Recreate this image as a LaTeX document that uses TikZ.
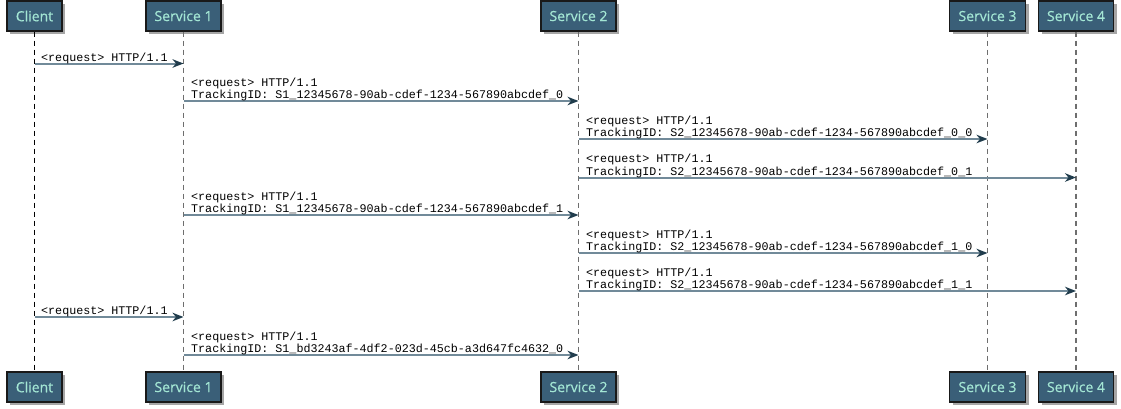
\documentclass[tikz,border=0pt]{standalone}
\usepackage{fontspec}
\setmainfont{Liberation Serif}
\newfontfamily\boxfont[FakeBold=0.4]{Open Sans}
\newfontfamily\msgfont{Liberation Mono}
\usetikzlibrary{arrows.meta,shadows}
\definecolor{boxfill}{HTML}{3A5F78}
\definecolor{boxtext}{HTML}{A3E6D4}
\definecolor{msgline}{HTML}{718A99}
\definecolor{msghead}{HTML}{203C4C}
\definecolor{lifegray}{HTML}{6E6E6E}
\newcommand{\twol}[2]{\begin{tabular}[b]{@{}l@{}}#1\\#2\end{tabular}}
\tikzset{
  participant/.style={draw=black!90, line width=1.3pt, fill=boxfill, text=boxtext,
    font=\boxfont\fontsize{14}{16}\selectfont, minimum height=30pt, inner sep=0pt,
    drop shadow={shadow xshift=3pt, shadow yshift=-3pt, opacity=0.35, fill=black}},
  lifeline/.style={draw=lifegray, line width=1.9pt, dash pattern=on 5pt off 4pt},
  clientline/.style={draw=black, line width=1.2pt, dash pattern=on 5pt off 4pt},
  msg/.style={draw=msgline, line width=2pt,
    -{Stealth[length=11pt, width=8.5pt, inset=3.5pt, color=msghead]}},
  lbl/.style={anchor=base west, inner sep=0pt, font=\msgfont\fontsize{11.7}{12}\selectfont}
}
\begin{document}
\begin{tikzpicture}[x=1pt, y=-1pt]
\useasboundingbox (0,0) rectangle (1121,408);
% top participants
\node[participant, minimum width=55pt] (ct)  at (34.5,16) {Client};
\node[participant, minimum width=75pt] (s1t) at (183.5,16) {Service 1};
\node[participant, minimum width=75pt] (s2t) at (578.5,16) {Service 2};
\node[participant, minimum width=76pt] (s3t) at (987.5,16) {Service 3};
\node[participant, minimum width=75pt] (s4t) at (1076,16) {Service 4};
% bottom participants
\node[participant, minimum width=55pt] (cb)  at (34.5,387) {Client};
\node[participant, minimum width=75pt] (s1b) at (183.5,387) {Service 1};
\node[participant, minimum width=75pt] (s2b) at (578.5,387) {Service 2};
\node[participant, minimum width=76pt] (s3b) at (987.5,387) {Service 3};
\node[participant, minimum width=75pt] (s4b) at (1076,387) {Service 4};
% lifelines
\draw[clientline] (ct.south)  -- (cb.north);
\draw[lifeline] (s1t.south) -- (s1b.north);
\draw[lifeline] (s2t.south) -- (s2b.north);
\draw[lifeline] (s3t.south) -- (s3b.north);
\draw[lifeline] (s4t.south) -- (s4b.north);
% messages
\draw[msg] (ct |- 0,63.5) -- (s1t |- 0,63.5);
\node[lbl] (l1) at (41,61) {<request> HTTP/1.1};

\draw[msg] (s1t |- 0,101) -- (s2t |- 0,101);
\node[lbl] (l2) at (191,98.5) {\twol{<request> HTTP/1.1}{TrackingID: S1\_12345678-90ab-cdef-1234-567890abcdef\_0}};

\draw[msg] (s2t |- 0,139) -- (s3t |- 0,139);
\node[lbl] (l3) at (586,136.5) {\twol{<request> HTTP/1.1}{TrackingID: S2\_12345678-90ab-cdef-1234-567890abcdef\_0\_0}};

\draw[msg] (s2t |- 0,177.5) -- (s4t |- 0,177.5);
\node[lbl] (l4) at (586,175) {\twol{<request> HTTP/1.1}{TrackingID: S2\_12345678-90ab-cdef-1234-567890abcdef\_0\_1}};

\draw[msg] (s1t |- 0,215) -- (s2t |- 0,215);
\node[lbl] (l5) at (191,212.5) {\twol{<request> HTTP/1.1}{TrackingID: S1\_12345678-90ab-cdef-1234-567890abcdef\_1}};

\draw[msg] (s2t |- 0,253) -- (s3t |- 0,253);
\node[lbl] (l6) at (586,250.5) {\twol{<request> HTTP/1.1}{TrackingID: S2\_12345678-90ab-cdef-1234-567890abcdef\_1\_0}};

\draw[msg] (s2t |- 0,291) -- (s4t |- 0,291);
\node[lbl] (l7) at (586,288.5) {\twol{<request> HTTP/1.1}{TrackingID: S2\_12345678-90ab-cdef-1234-567890abcdef\_1\_1}};

\draw[msg] (ct |- 0,317) -- (s1t |- 0,317);
\node[lbl] (l8) at (41,314.5) {<request> HTTP/1.1};

\draw[msg] (s1t |- 0,355) -- (s2t |- 0,355);
\node[lbl] (l9) at (191,352.5) {\twol{<request> HTTP/1.1}{TrackingID: S1\_bd3243af-4df2-023d-45cb-a3d647fc4632\_0}};
\end{tikzpicture}
\end{document}
